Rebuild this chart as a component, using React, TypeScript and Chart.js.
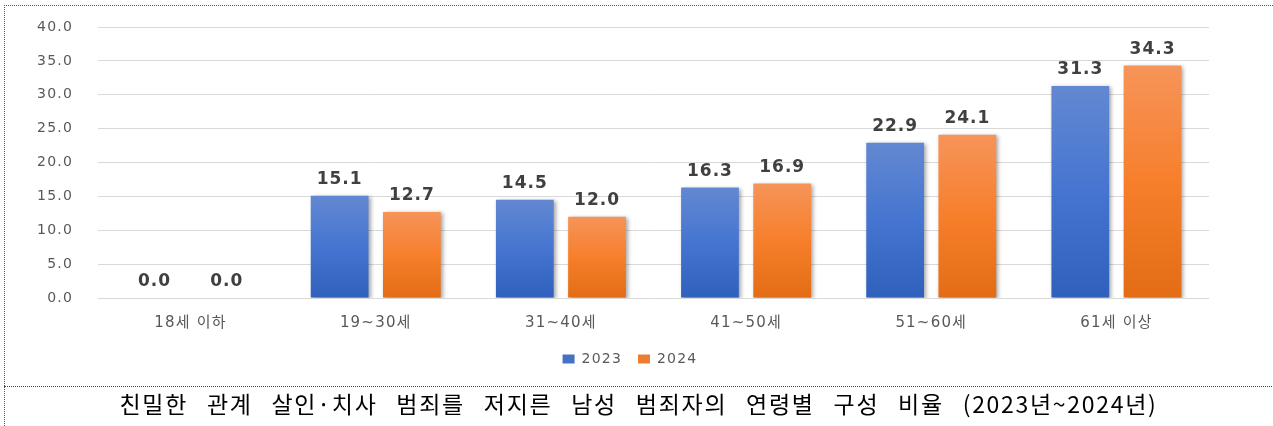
import React, { useEffect, useRef } from "react";
import { Chart, registerables } from "chart.js";

Chart.register(...registerables);

const categories = ["18세 이하", "19~30세", "31~40세", "41~50세", "51~60세", "61세 이상"];
const seriesNames = ["2023", "2024"];
const values2023 = [0.0, 15.1, 14.5, 16.3, 22.9, 31.3];
const values2024 = [0.0, 12.7, 12.0, 16.9, 24.1, 34.3];
const yMin = 0;
const yMax = 40;
const yStep = 5;
const titleText = "친밀한 관계 살인·치사 범죄를 저지른 남성 범죄자의 연령별 구성 비율 (2023년~2024년)";

const legendColors = ["#4472c4", "#ed7d31"];
const gradientStops = [
  ["#6388d2", "#4575d0", "#2f60bb"],
  ["#f69459", "#f77f2c", "#e36c15"],
];

const FONT = "'DejaVu Sans', 'Noto Sans CJK KR', sans-serif";

function barGradient(dsIndex: number) {
  return (c: any) => {
    const chart = c.chart;
    const ys = chart.scales && chart.scales.y;
    if (!ys || c.parsed == null || !chart.chartArea) return legendColors[dsIndex];
    const top = ys.getPixelForValue(c.parsed.y);
    const base = ys.getPixelForValue(0);
    if (!isFinite(top) || !isFinite(base) || Math.abs(base - top) < 1) return legendColors[dsIndex];
    const g = chart.ctx.createLinearGradient(0, top, 0, base);
    const s = gradientStops[dsIndex];
    g.addColorStop(0, s[0]);
    g.addColorStop(0.5, s[1]);
    g.addColorStop(1, s[2]);
    return g;
  };
}

const spacingPlugin = {
  id: "spacing",
  beforeUpdate(chart: any) {
    chart.ctx.letterSpacing = "1.2px";
  },
  beforeDraw(chart: any) {
    chart.ctx.letterSpacing = "1.2px";
  },
};

const shadowPlugin = {
  id: "barShadow",
  beforeDatasetsDraw(chart: any) {
    const ctx = chart.ctx;
    ctx.save();
    ctx.shadowColor = "rgba(0,0,0,0.35)";
    ctx.shadowBlur = 4;
    ctx.shadowOffsetX = 2;
    ctx.shadowOffsetY = 1;
  },
  afterDatasetsDraw(chart: any) {
    chart.ctx.restore();
  },
};

const valueLabelPlugin = {
  id: "valueLabels",
  afterDraw(chart: any) {
    const ctx = chart.ctx;
    ctx.save();
    ctx.letterSpacing = "1px";
    ctx.font = `bold 17px ${FONT}`;
    ctx.fillStyle = "#404040";
    ctx.textAlign = "center";
    ctx.textBaseline = "alphabetic";
    chart.data.datasets.forEach((ds: any, di: number) => {
      const meta = chart.getDatasetMeta(di);
      meta.data.forEach((el: any, i: number) => {
        const v = ds.data[i];
        ctx.fillText(Number(v).toFixed(1), el.x, el.y - 12);
      });
    });
    ctx.restore();
  },
};

export default function App() {
  const canvasRef = useRef<HTMLCanvasElement | null>(null);

  useEffect(() => {
    if (!canvasRef.current) return;
    const chart = new Chart(canvasRef.current, {
      type: "bar",
      data: {
        labels: categories,
        datasets: [
          {
            label: seriesNames[0],
            data: values2023,
            backgroundColor: barGradient(0),
            borderWidth: 0,
            categoryPercentage: 0.78,
            barPercentage: 0.8,
          },
          {
            label: seriesNames[1],
            data: values2024,
            backgroundColor: barGradient(1),
            borderWidth: 0,
            categoryPercentage: 0.78,
            barPercentage: 0.8,
          },
        ],
      },
      options: {
        animation: false,
        responsive: true,
        maintainAspectRatio: false,
        layout: { autoPadding: false, padding: { top: 27, right: 13, bottom: 10, left: 0 } },
        plugins: {
          title: { display: false },
          tooltip: { enabled: false },
          legend: {
            display: true,
            position: "bottom",
            labels: {
              boxWidth: 12,
              boxHeight: 9,
              padding: 16,
              color: "#595959",
              font: { family: FONT, size: 14 },
              generateLabels: (ch: any) => {
                const items = (Chart.defaults.plugins.legend.labels as any).generateLabels(ch);
                items.forEach((it: any, i: number) => {
                  it.fillStyle = legendColors[i];
                  it.strokeStyle = legendColors[i];
                  it.lineWidth = 0;
                });
                return items;
              },
            },
          },
        },
        scales: {
          x: {
            grid: { display: false, drawTicks: false },
            border: { display: false },
            ticks: {
              color: "#595959",
              padding: 16,
              font: { family: FONT, size: 15 },
            },
            afterFit: (s: any) => {
              s.height = 38;
            },
          },
          y: {
            min: yMin,
            max: yMax,
            grid: {
              color: "#d9d9d9",
              lineWidth: 1,
              drawTicks: true,
              tickLength: 8,
              tickColor: "rgba(0,0,0,0)",
            },
            border: { display: false },
            ticks: {
              stepSize: yStep,
              color: "#595959",
              padding: 17,
              font: { family: FONT, size: 14 },
              callback: (v: any) => Number(v).toFixed(1),
            },
            afterFit: (s: any) => {
              s.width = 98;
            },
          },
          yRightSpace: {
            position: "right",
            display: true,
            min: 0,
            max: 1,
            grid: { display: false, drawTicks: false },
            border: { display: false },
            ticks: { display: false },
            afterFit: (s: any) => {
              s.width = 51;
            },
          },
        },
      },
      plugins: [spacingPlugin, shadowPlugin, valueLabelPlugin],
    });
    return () => chart.destroy();
  }, []);

  return (
    <div
      style={{
        position: "fixed",
        left: 0,
        top: 0,
        width: 1273,
        height: 426,
        overflow: "hidden",
        background: "#fff",
      }}
    >
      <div style={{ position: "absolute", left: 0, top: 0, width: 1273, height: 386 }}>
        <canvas ref={canvasRef} />
      </div>
      <div
        style={{
          position: "absolute",
          left: 4,
          top: 5,
          width: 1300,
          height: 500,
          borderLeft: "1px dotted #555",
          borderTop: "1px dotted #555",
          pointerEvents: "none",
        }}
      />
      <div
        style={{
          position: "absolute",
          left: 4,
          top: 386,
          width: 1300,
          height: 0,
          borderTop: "1px dotted #444",
        }}
      />
      <div
        style={{
          position: "absolute",
          left: 4,
          top: 386,
          width: 1269,
          height: 40,
          lineHeight: "35px",
          textAlign: "center",
          fontFamily: "'Noto Sans CJK KR', sans-serif",
          fontSize: 23,
          letterSpacing: "1.7px",
          wordSpacing: "12px",
          color: "#000",
          whiteSpace: "nowrap",
        }}
      >
        {titleText}
      </div>
    </div>
  );
}
